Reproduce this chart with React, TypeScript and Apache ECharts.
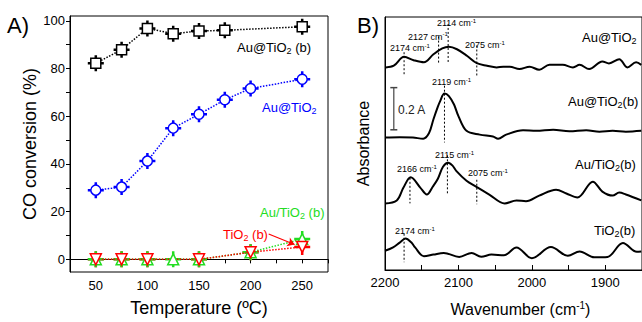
import React, { useEffect, useRef } from "react";
import * as echarts from "echarts";

const FONT = '"Liberation Sans", Arial, sans-serif';

// ---------- Panel A data ----------
const tempsAuTiO2b = [50, 75, 100, 125, 150, 175, 250];
const convAuTiO2b = [82.2, 87.9, 96.8, 94.6, 95.7, 96.0, 97.5];
const tempsAuTiO2 = [50, 75, 100, 125, 150, 175, 200, 250];
const convAuTiO2 = [29.0, 30.3, 41.2, 55.0, 60.8, 66.9, 71.6, 75.5];
const tempsAuSlashTiO2b = [50, 75, 100, 125, 150, 200, 250];
const convAuSlashTiO2b = [0, 0, 0, 0, 0, 3, 8.5];
const tempsTiO2b = [50, 75, 100, 150, 200, 250];
const convTiO2b = [0, 0, 0, 0, 3, 5.2];
const xTicksA = [25, 50, 75, 100, 125, 150, 175, 200, 225, 250, 275];
const xLabelsA = [50, 100, 150, 200, 250];
const yTicksA = [0, 10, 20, 30, 40, 50, 60, 70, 80, 90, 100];
const yLabelsA = [0, 20, 40, 60, 80, 100];

// ---------- Panel B data ----------
const spec1W = [2199, 2188, 2174, 2161, 2147, 2134, 2122, 2113, 2102, 2088, 2075, 2061, 2048, 2039, 2030, 2017, 2003, 1990, 1976, 1958, 1944, 1935, 1922, 1904, 1895, 1881, 1870, 1858, 1851];
const spec1A = [0.961, 0.969, 1.011, 0.995, 0.985, 1.023, 1.051, 1.059, 1.047, 1.015, 0.981, 0.969, 0.961, 0.964, 0.964, 0.953, 0.964, 0.950, 0.973, 0.973, 0.961, 0.973, 0.953, 0.989, 0.980, 1.000, 0.961, 0.985, 0.973];
const spec2W = [2200, 2180, 2162, 2148, 2140, 2134, 2128, 2125, 2119, 2113, 2106, 2100, 2089, 2071, 2053, 2046, 2035, 2012, 1994, 1971, 1949, 1926, 1908, 1890, 1872, 1851];
const spec2A = [0.628, 0.630, 0.628, 0.623, 0.650, 0.715, 0.775, 0.800, 0.837, 0.825, 0.785, 0.730, 0.660, 0.642, 0.633, 0.623, 0.642, 0.663, 0.660, 0.665, 0.658, 0.663, 0.656, 0.660, 0.656, 0.660];
const spec3W = [2200, 2184, 2175, 2165, 2152, 2143, 2135, 2128, 2121, 2114, 2108, 2103, 2089, 2076, 2058, 2037, 2021, 2008, 1990, 1967, 1953, 1938, 1917, 1904, 1890, 1881, 1872, 1851];
const spec3A = [0.316, 0.330, 0.390, 0.440, 0.391, 0.358, 0.395, 0.433, 0.490, 0.509, 0.495, 0.470, 0.423, 0.395, 0.358, 0.316, 0.330, 0.326, 0.353, 0.381, 0.363, 0.344, 0.419, 0.372, 0.353, 0.367, 0.358, 0.330];
const spec4W = [2200, 2189, 2180, 2172, 2164, 2159, 2147, 2134, 2120, 2099, 2082, 2069, 2055, 2038, 2021, 2000, 1974, 1951, 1935, 1915, 1897, 1876, 1857, 1851];
const spec4A = [0.091, 0.107, 0.130, 0.149, 0.130, 0.107, 0.065, 0.073, 0.081, 0.062, 0.081, 0.063, 0.073, 0.070, 0.107, 0.056, 0.109, 0.067, 0.088, 0.060, 0.062, 0.128, 0.086, 0.088];
const peakW = [2174, 2127, 2114, 2075, 2119, 2166, 2115, 2075, 2174];
const peakTop = [1.033, 1.107, 1.167, 1.065, 0.874, 0.437, 0.544, 0.428, 0.172];
const peakBottom = [0.921, 0.981, 0.981, 0.921, 0.605, 0.316, 0.363, 0.312, 0.037];
const scaleBarW = 2188;
const scaleBarA = [0.665, 0.865];
const xTicksB = [1850, 1900, 1950, 2000, 2050, 2100, 2150, 2200];
const xLabelsB = [1900, 2000, 2100, 2200];

const BLACK = "#000000";
const BLUE = "#0000ff";
const GREEN = "#22dd22";
const RED = "#ff0000";

const CROSS = "path://M6.75,0h2.5v16h-2.5z M0,6.75h16v2.5h-16z";

const zip = (a: number[], b: number[]) => a.map((v, i) => [v, b[i]]);

function richFor(size: number, color: string) {
  const s = Math.round(size * 0.7);
  return {
    sub: { fontSize: s, fill: color, fontFamily: FONT, padding: [Math.round(size * 0.5), 0, 0, 0] },
    sup: { fontSize: s, fill: color, fontFamily: FONT, padding: [0, 0, Math.round(size * 0.5), 0] },
  };
}

function txt(x: number, y: number, text: string, color: string, size: number) {
  return {
    type: "text",
    x,
    y,
    silent: true,
    style: {
      text,
      fill: color,
      fontSize: size,
      fontFamily: FONT,
      align: "left",
      verticalAlign: "middle",
      rich: richFor(size, color),
    },
  };
}

function convSeries(temps: number[], vals: number[], color: string, symbol: string, size: number, crossZ: number, rotate = 0, extra: any = {}) {
  return [
    {
      type: "scatter",
      xAxisIndex: 0,
      yAxisIndex: 0,
      data: zip(temps, vals),
      symbol: CROSS,
      symbolSize: 16,
      itemStyle: { color, opacity: 1 },
      silent: true,
      z: crossZ,
    },
    {
      type: "line",
      xAxisIndex: 0,
      yAxisIndex: 0,
      data: zip(temps, vals),
      symbol,
      symbolSize: size,
      symbolRotate: rotate,
      showSymbol: true,
      itemStyle: { color: "#ffffff", borderColor: color, borderWidth: 1.5 },
      lineStyle: { color, type: "dotted", width: 1.5 },
      silent: true,
      z: 4,
      ...extra,
    },
  ];
}

const specs = [
  [spec1W, spec1A],
  [spec2W, spec2A],
  [spec3W, spec3A],
  [spec4W, spec4A],
];

const option: any = {
  animation: false,
  textStyle: { fontFamily: FONT },
  grid: [
    { left: 70, top: 16, width: 258, height: 259, show: true, borderColor: "#000", borderWidth: 1, backgroundColor: "transparent" },
    { left: 385, top: 17, width: 258, height: 258, show: true, borderColor: "#000", borderWidth: 1, backgroundColor: "transparent" },
  ],
  xAxis: [
    {
      gridIndex: 0,
      type: "value",
      min: 25,
      max: 275,
      axisLine: { lineStyle: { color: "#000", width: 1 } },
      axisTick: { length: 4, lineStyle: { color: "#000" }, customValues: xTicksA },
      axisLabel: { fontSize: 13, color: "#000", margin: 7, fontFamily: FONT, customValues: xLabelsA, formatter: (v: number) => String(v) },
      splitLine: { show: false },
      name: "Temperature (ºC)",
      nameLocation: "middle",
      nameGap: 27,
      nameTextStyle: { fontSize: 18, color: "#000", fontFamily: FONT },
    },
    {
      gridIndex: 1,
      type: "value",
      min: 1850,
      max: 2200,
      inverse: true,
      axisLine: { lineStyle: { color: "#000", width: 1 } },
      axisTick: { inside: true, length: 5, lineStyle: { color: "#000" }, customValues: xTicksB },
      axisLabel: { fontSize: 13, color: "#000", margin: 6, fontFamily: FONT, customValues: xLabelsB, formatter: (v: number) => String(v) },
      splitLine: { show: false },
      name: "Wavenumber (cm{sup|-1})",
      nameLocation: "middle",
      nameGap: 30,
      nameTextStyle: {
        fontSize: 16,
        color: "#000",
        fontFamily: FONT,
        padding: [0, 0, 0, 14],
        rich: { sup: { fontSize: 10, color: "#000", fontFamily: FONT, padding: [0, 0, 8, 0] } },
      },
    },
  ],
  yAxis: [
    {
      gridIndex: 0,
      type: "value",
      min: -5.3,
      max: 102,
      axisLine: { show: true, lineStyle: { color: "#000", width: 1 } },
      axisTick: { show: true, length: 4, lineStyle: { color: "#000" }, customValues: yTicksA },
      axisLabel: { fontSize: 13, color: "#000", margin: 5, fontFamily: FONT, customValues: yLabelsA, formatter: (v: number) => String(v) },
      splitLine: { show: false },
      name: "CO conversion (%)",
      nameLocation: "middle",
      nameGap: 31,
      nameTextStyle: { fontSize: 18, color: "#000", fontFamily: FONT },
    },
    {
      gridIndex: 1,
      type: "value",
      min: 0,
      max: 1.2,
      axisLine: { show: true, lineStyle: { color: "#000", width: 1 } },
      axisTick: { show: false },
      axisLabel: { show: false },
      splitLine: { show: false },
      name: "Absorbance",
      nameLocation: "middle",
      nameGap: 14,
      nameTextStyle: { fontSize: 16, color: "#000", fontFamily: FONT },
    },
  ],
  series: [
    ...convSeries(tempsAuTiO2b, convAuTiO2b, BLACK, "rect", 10, 3),
    ...convSeries(tempsAuTiO2, convAuTiO2, BLUE, "circle", 10, 3),
    ...convSeries(tempsAuSlashTiO2b, convAuSlashTiO2b, GREEN, "triangle", 11, 3),
    ...convSeries(tempsTiO2b, convTiO2b, RED, "triangle", 11, 2, 180, {
      markLine: {
        silent: true,
        symbol: ["none", "arrow"],
        symbolSize: 7,
        label: { show: false },
        lineStyle: { color: RED, type: "solid", width: 1.2 },
        data: [[{ coord: [217.5, 10.6] }, { coord: [242.6, 6.2] }]],
      },
    }),
    ...specs.map(([w, a]) => ({
      type: "line",
      xAxisIndex: 1,
      yAxisIndex: 1,
      data: zip(w, a),
      smooth: 0.35,
      symbol: "none",
      showSymbol: false,
      lineStyle: { color: "#000", width: 2 },
      silent: true,
      z: 3,
    })),
    ...peakW.map((w, i) => ({
      type: "line",
      xAxisIndex: 1,
      yAxisIndex: 1,
      data: [
        [w, peakTop[i]],
        [w, peakBottom[i]],
      ],
      symbol: "none",
      lineStyle: { color: "#000", width: 1, type: [2, 2] },
      silent: true,
      z: 2,
    })),
    {
      type: "line",
      xAxisIndex: 1,
      yAxisIndex: 1,
      data: [
        [scaleBarW, scaleBarA[0]],
        [scaleBarW, scaleBarA[1]],
      ],
      symbol: "rect",
      symbolSize: [7, 1.5],
      itemStyle: { color: "#444" },
      lineStyle: { color: "#444", width: 1.2 },
      silent: true,
    },
  ],
  graphic: [
    txt(7, 25, "A)", "#000", 22),
    txt(237, 47, "Au@TiO{sub|2} (b)", BLACK, 13),
    txt(262, 107, "Au@TiO{sub|2}", BLUE, 13),
    txt(260, 212, "Au/TiO{sub|2} (b)", GREEN, 13),
    txt(223, 234, "TiO{sub|2} (b)", RED, 13),
    txt(357, 25, "B)", "#000", 22),
    txt(582, 37, "Au@TiO{sub|2}", "#000", 13),
    txt(568, 101, "Au@TiO{sub|2}(b)", "#000", 13),
    txt(575, 164, "Au/TiO{sub|2}(b)", "#000", 13),
    txt(594, 230, "TiO{sub|2}(b)", "#000", 13),
    txt(398, 110, "0.2 A", "#222", 12),
    txt(390, 48, "2174 cm{sup|-1}", "#000", 9),
    txt(408, 36.5, "2127 cm{sup|-1}", "#000", 9),
    txt(437, 23, "2114 cm{sup|-1}", "#000", 9),
    txt(465, 45, "2075 cm{sup|-1}", "#000", 9),
    txt(432, 82, "2119 cm{sup|-1}", "#000", 9),
    txt(397, 169, "2166 cm{sup|-1}", "#000", 9),
    txt(435, 155, "2115 cm{sup|-1}", "#000", 9),
    txt(468, 173, "2075 cm{sup|-1}", "#000", 9),
    txt(395, 231, "2174 cm{sup|-1}", "#000", 9),
  ],
};

export default function App() {
  const ref = useRef<HTMLDivElement>(null);
  useEffect(() => {
    if (!ref.current) return;
    const chart = echarts.init(ref.current, null, { renderer: "svg" });
    chart.setOption(option);
    return () => chart.dispose();
  }, []);
  return (
    <div
      ref={ref}
      style={{ position: "fixed", left: 0, top: 0, width: 642, height: 322, background: "#fff" }}
    />
  );
}
